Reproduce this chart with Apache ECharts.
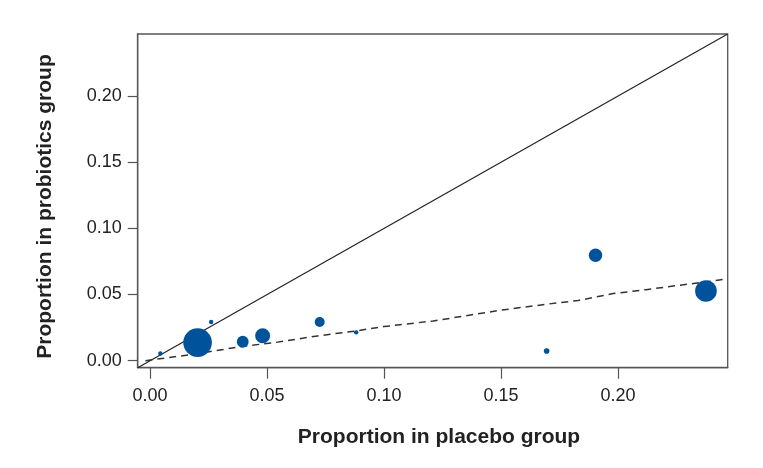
<!DOCTYPE html>
<html>
<head>
<meta charset="utf-8">
<script src="https://cdn.jsdelivr.net/npm/echarts@6/dist/echarts.min.js"></script>
<style>
html,body{margin:0;padding:0;background:#fff;}
#chart{width:763px;height:468px;}
</style>
</head>
<body>
<div id="chart"></div>
<script>
// ---- data ----
const placebo    = [0.0044, 0.0203, 0.0261, 0.0396, 0.0481, 0.0725, 0.0881, 0.1695, 0.1904, 0.2376];
const probiotics = [0.0055, 0.0137, 0.0292, 0.0143, 0.0189, 0.0292, 0.0214, 0.0073, 0.0797, 0.0527];
const weights    = [5, 205, 5, 35, 56, 25, 5, 8, 45, 117];
const fitX = [-0.002, 0.0203, 0.040, 0.053, 0.0715, 0.088, 0.100, 0.121, 0.150, 0.170, 0.183, 0.198, 0.212, 0.2457];
const fitY = [0.0000, 0.0053, 0.0110, 0.0136, 0.0187, 0.0225, 0.0258, 0.0300, 0.0382, 0.0428, 0.0455, 0.0507, 0.0537, 0.0615];
const tickValues = [0, 0.05, 0.10, 0.15, 0.20];
const axisMin = -0.0053, axisMax = 0.2469;
const xTitle = 'Proportion in placebo group';
const yTitle = 'Proportion in probiotics group';

const points = placebo.map((x, i) => [x, probiotics[i], weights[i]]);
const fit = fitX.map((x, i) => [x, fitY[i]]);

const chart = echarts.init(document.getElementById('chart'), null, {renderer: 'canvas'});
const axisCol = '#555';
const labelStyle = {color: '#222', fontSize: 18, fontFamily: 'Liberation Sans, Arial, sans-serif'};
const fmt = v => v.toFixed(2);

chart.setOption({
  animation: false,
  grid: {left: 137.7, top: 34, right: 35.3, bottom: 100.3, show: true, borderColor: axisCol, borderWidth: 1.3, backgroundColor: 'transparent'},
  xAxis: {
    type: 'value', min: axisMin, max: axisMax,
    axisLine: {show: true, onZero: false, lineStyle: {color: axisCol, width: 1.3}},
    axisTick: {show: true, length: 11, lineStyle: {color: axisCol, width: 1.2}, customValues: tickValues},
    axisLabel: {margin: 19, formatter: fmt, customValues: tickValues, ...labelStyle},
    splitLine: {show: false}
  },
  yAxis: {
    type: 'value', min: axisMin, max: axisMax,
    axisLine: {show: true, onZero: false, lineStyle: {color: axisCol, width: 1.3}},
    axisTick: {show: true, length: 10, lineStyle: {color: axisCol, width: 1.2}, customValues: tickValues},
    axisLabel: {margin: 16, formatter: fmt, customValues: tickValues, ...labelStyle},
    splitLine: {show: false}
  },
  graphic: [
    {type: 'text', x: 439, y: 437, style: {text: xTitle, x: 0, y: 0, align: 'center', verticalAlign: 'middle', fill: '#222', font: 'bold 21px "Liberation Sans", Arial, sans-serif'}},
    {type: 'text', x: 45.5, y: 206.5, rotation: Math.PI / 2, style: {text: yTitle, x: 0, y: 0, align: 'center', verticalAlign: 'middle', fill: '#222', font: 'bold 21px "Liberation Sans", Arial, sans-serif'}}
  ],
  series: [
    {
      type: 'line', data: [[axisMin, axisMin], [axisMax, axisMax]],
      symbol: 'none', silent: true, z: 2,
      lineStyle: {color: '#222', width: 1.2}
    },
    {
      type: 'line', data: fit, symbol: 'none', silent: true, z: 2,
      lineStyle: {color: '#333', width: 1.5, type: [7, 5]}
    },
    {
      type: 'scatter', data: points, z: 3,
      symbolSize: d => 2 * Math.sqrt(d[2]),
      itemStyle: {color: '#00539b', opacity: 1}
    }
  ]
});
</script>
</body>
</html>
